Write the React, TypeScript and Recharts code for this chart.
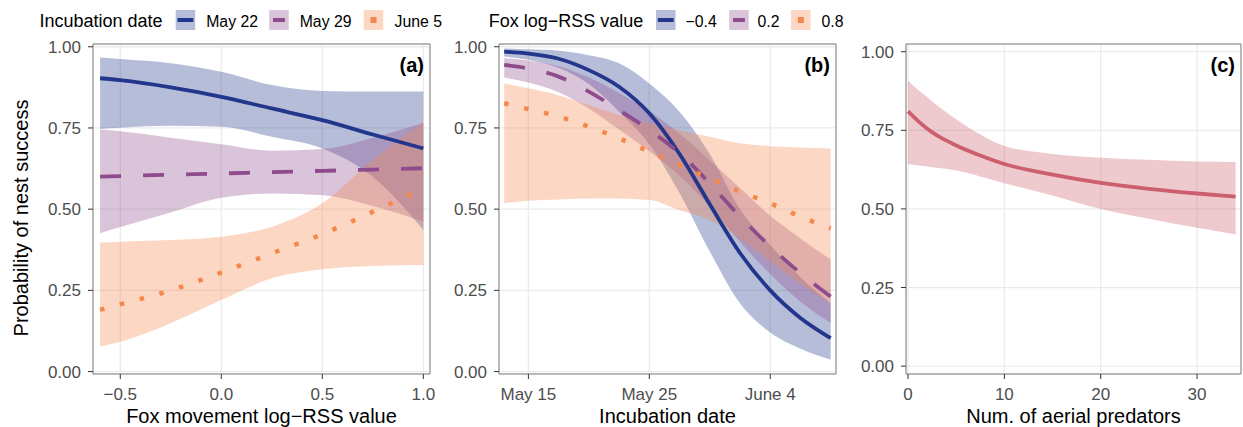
import React from 'react';
import { ComposedChart, Area, Line, XAxis, YAxis, CartesianGrid, ReferenceArea } from 'recharts';

const FONT = '"Liberation Sans", Arial, Helvetica, sans-serif';

const BLUE = '#22368c';
const PURPLE = '#8e4c8c';
const ORANGE = '#f5874b';
const ROSE = '#cc5f6e';
const RIBBON_ALPHA = 0.33;

// (a) nest success vs fox movement log-RSS, by incubation date
const foxX = [-0.6, -0.5, -0.25, 0, 0.25, 0.5, 0.75, 1.0];
const may22Fit = [0.903, 0.897, 0.875, 0.846, 0.81, 0.774, 0.73, 0.687];
const may22Lo = [0.747, 0.751, 0.757, 0.754, 0.723, 0.687, 0.6, 0.436];
const may22Hi = [0.967, 0.962, 0.949, 0.923, 0.882, 0.864, 0.862, 0.862];
const may29Fit = [0.6, 0.602, 0.606, 0.61, 0.614, 0.618, 0.622, 0.626];
const may29Lo = [0.426, 0.445, 0.49, 0.535, 0.548, 0.543, 0.51, 0.462];
const may29Hi = [0.745, 0.74, 0.72, 0.7, 0.68, 0.685, 0.72, 0.765];
const june5Fit = [0.19, 0.207, 0.25, 0.305, 0.364, 0.423, 0.492, 0.565];
const june5Lo = [0.077, 0.092, 0.149, 0.22, 0.287, 0.315, 0.325, 0.328];
const june5Hi = [0.397, 0.4, 0.405, 0.415, 0.446, 0.518, 0.651, 0.769];

// (b) nest success vs incubation date (days after May 15), by fox log-RSS
const dayX = [-2, 0, 2.5, 5, 7.5, 10, 12.5, 15, 17.5, 20, 22.5, 25];
const neg04Fit = [0.985, 0.979, 0.963, 0.928, 0.877, 0.795, 0.67, 0.515, 0.365, 0.25, 0.165, 0.103];
const neg04Lo = [0.97, 0.96, 0.935, 0.885, 0.8, 0.7, 0.55, 0.37, 0.21, 0.12, 0.07, 0.036];
const neg04Hi = [0.995, 0.992, 0.988, 0.974, 0.949, 0.887, 0.8, 0.67, 0.5, 0.39, 0.29, 0.21];
const pos02Fit = [0.944, 0.933, 0.908, 0.862, 0.805, 0.744, 0.672, 0.579, 0.477, 0.385, 0.303, 0.231];
const pos02Lo = [0.905, 0.89, 0.86, 0.81, 0.745, 0.678, 0.603, 0.51, 0.4, 0.3, 0.215, 0.15];
const pos02Hi = [0.965, 0.958, 0.94, 0.905, 0.858, 0.802, 0.732, 0.65, 0.565, 0.48, 0.41, 0.345];
const pos08Fit = [0.826, 0.808, 0.785, 0.754, 0.718, 0.677, 0.636, 0.595, 0.554, 0.518, 0.477, 0.441];
const pos08Lo = [0.518, 0.526, 0.53, 0.533, 0.533, 0.528, 0.497, 0.467, 0.41, 0.34, 0.27, 0.21];
const pos08Hi = [0.887, 0.872, 0.851, 0.82, 0.79, 0.764, 0.744, 0.723, 0.703, 0.694, 0.69, 0.687];

// (c) nest success vs number of aerial predators
const predX = [0, 1, 2, 3, 4, 5, 7.5, 10, 15, 20, 25, 30, 34];
const predFit = [0.81, 0.781, 0.755, 0.734, 0.717, 0.702, 0.67, 0.643, 0.609, 0.583, 0.564, 0.549, 0.539];
const predLo = [0.643, 0.639, 0.635, 0.631, 0.627, 0.622, 0.603, 0.582, 0.543, 0.5, 0.469, 0.44, 0.419];
const predHi = [0.908, 0.88, 0.855, 0.83, 0.807, 0.785, 0.737, 0.7, 0.675, 0.663, 0.656, 0.651, 0.649];

const probTicks = [0, 0.25, 0.5, 0.75, 1];
const foxTicks = [-0.5, 0, 0.5, 1];
const dayTicks = [0, 10, 20];
const dayTickLabels = ['May 15', 'May 25', 'June 4'];
const predTicks = [0, 10, 20, 30];

const dateLabels = ['May 22', 'May 29', 'June 5'];
const rssLabels = ['\u22120.4', '0.2', '0.8'];

type Band = { key: string; color: string; fit: number[]; lo: number[]; hi: number[]; dash?: string; width: number };

const DASHED = '21 22';
const DOTTED = '4.5 16';

const bandsA: Band[] = [
  { key: 'may22', color: BLUE, fit: may22Fit, lo: may22Lo, hi: may22Hi, width: 3.8 },
  { key: 'may29', color: PURPLE, fit: may29Fit, lo: may29Lo, hi: may29Hi, dash: DASHED, width: 3.8 },
  { key: 'june5', color: ORANGE, fit: june5Fit, lo: june5Lo, hi: june5Hi, dash: DOTTED, width: 4.5 },
];
const bandsB: Band[] = [
  { key: 'neg04', color: BLUE, fit: neg04Fit, lo: neg04Lo, hi: neg04Hi, width: 3.8 },
  { key: 'pos02', color: PURPLE, fit: pos02Fit, lo: pos02Lo, hi: pos02Hi, dash: DASHED, width: 3.8 },
  { key: 'pos08', color: ORANGE, fit: pos08Fit, lo: pos08Lo, hi: pos08Hi, dash: DOTTED, width: 4.5 },
];
const bandsC: Band[] = [
  { key: 'pred', color: ROSE, fit: predFit, lo: predLo, hi: predHi, width: 3.8 },
];

function buildRows(xs: number[], bands: Band[]) {
  return xs.map((x, i) => {
    const row: Record<string, any> = { x };
    bands.forEach((b) => {
      row[b.key] = b.fit[i];
      row[b.key + 'Band'] = [b.lo[i], b.hi[i]];
    });
    return row;
  });
}

const fmtNum = (v: number) => v.toFixed(1).replace('-', '\u2212');

function Panel({
  left, width, yWidth, right, xs, bands, xDomain, yDomain, xTicks, xFmt, xTitle, tag, yTitle,
}: {
  left: number; width: number; yWidth: number; right: number; xs: number[]; bands: Band[];
  xDomain: [number, number]; yDomain: [number, number]; xTicks: number[];
  xFmt: (v: number) => string; xTitle: string; tag: string; yTitle?: string;
}) {
  const rows = buildRows(xs, bands);
  const tick = { fill: '#4d4d4d', fontSize: 17, fontFamily: FONT };
  return (
    <div style={{ position: 'absolute', left, top: 0 }}>
      <ComposedChart width={width} height={427} data={rows} margin={{ top: 44, right, bottom: 0, left: 0 }}>
        <CartesianGrid stroke="#ebebeb" strokeWidth={1.3} />
        <XAxis
          type="number" dataKey="x" domain={xDomain} ticks={xTicks} allowDataOverflow interval={0}
          tickFormatter={xFmt} height={53} tickSize={5} tickMargin={9} axisLine={false}
          tickLine={{ stroke: '#333333' }} tick={tick}
          label={{ value: xTitle, position: 'insideBottom', offset: 4, fill: '#000', fontSize: 20, fontFamily: FONT }}
        />
        <YAxis
          type="number" domain={yDomain} ticks={probTicks} allowDataOverflow interval={0} width={yWidth}
          tickFormatter={(v: number) => v.toFixed(2)} tickSize={5} tickMargin={7} axisLine={false}
          tickLine={{ stroke: '#333333' }} tick={tick}
          label={yTitle ? {
            content: (p: any) => {
              const vb = p.viewBox;
              const cx = vb.x + 21;
              const cy = vb.y + vb.height / 2 + 9;
              return (
                <text x={cx} y={cy} transform={`rotate(-90 ${cx} ${cy})`} textAnchor="middle" dy="0.35em"
                  fill="#000" fontSize={20} fontFamily={FONT}>{yTitle}</text>
              );
            },
          } : undefined}
        />
        {bands.map((b) => (
          <Area key={b.key + 'Band'} dataKey={b.key + 'Band'} type="monotone" fill={b.color}
            fillOpacity={RIBBON_ALPHA} stroke="none" isAnimationActive={false} activeDot={false} />
        ))}
        {bands.map((b) => (
          <Line key={b.key} dataKey={b.key} type="monotone" stroke={b.color} strokeWidth={b.width}
            strokeDasharray={b.dash} dot={false} activeDot={false} isAnimationActive={false} />
        ))}
        <ReferenceArea
          x1={xDomain[0]} x2={xDomain[1]} y1={yDomain[0]} y2={yDomain[1]} ifOverflow="visible"
          fill="none" stroke="#808080" strokeWidth={1}
          label={{
            content: (p: any) => {
              const vb = p.viewBox;
              return (
                <text x={vb.x + vb.width - 6} y={vb.y + 27.6} textAnchor="end" fill="#000"
                  fontSize={20} fontWeight="bold" fontFamily={FONT}>{tag}</text>
              );
            },
          }}
        />
      </ComposedChart>
    </div>
  );
}

function KeyMark({ x, color, dash }: { x: number; color: string; dash?: string }) {
  return (
    <g>
      <rect x={x} y={10} width={19.5} height={20} fill={color} fillOpacity={RIBBON_ALPHA} />
      {!dash && <line x1={x + 1.8} x2={x + 17.7} y1={20} y2={20} stroke={color} strokeWidth={4} />}
      {dash === DASHED && <line x1={x + 3.8} x2={x + 15.7} y1={20} y2={20} stroke={color} strokeWidth={4} />}
      {dash === DOTTED && <rect x={x + 6.8} y={17} width={6} height={6} fill={color} />}
    </g>
  );
}

function LegendGroup({ titleX, title, keyXs, labelXs, labels, bands }: {
  titleX: number; title: string; keyXs: number[]; labelXs: number[]; labels: string[]; bands: Band[];
}) {
  return (
    <g fontFamily={FONT}>
      <text x={titleX} y={26.7} fontSize={18} fill="#000">{title}</text>
      {labels.map((lab, i) => (
        <g key={lab}>
          <KeyMark x={keyXs[i]} color={bands[i].color} dash={bands[i].dash} />
          <text x={labelXs[i]} y={26.7} fontSize={15.8} fill="#000">{lab}</text>
        </g>
      ))}
    </g>
  );
}

export default function App() {
  return (
    <div style={{ position: 'absolute', left: 0, top: 0, width: 1243, height: 427, background: '#fff' }}>
      <Panel left={0} width={440} yWidth={93} right={10} xs={foxX} bands={bandsA}
        xDomain={[-0.635, 1.033]} yDomain={[-0.0075, 1.0085]} xTicks={foxTicks} xFmt={fmtNum}
        xTitle={'Fox movement log\u2212RSS value'} tag="(a)" yTitle="Probability of nest success" />
      <Panel left={420} width={420} yWidth={79} right={4} xs={dayX} bands={bandsB}
        xDomain={[-2.43, 25.44]} yDomain={[-0.0075, 1.0085]} xTicks={dayTicks}
        xFmt={(v: number) => dayTickLabels[dayTicks.indexOf(v)] ?? ''}
        xTitle="Incubation date" tag="(b)" />
      <Panel left={840} width={403} yWidth={66} right={2} xs={predX} bands={bandsC}
        xDomain={[-0.21, 34.56]} yDomain={[-0.025, 1.0245]} xTicks={predTicks} xFmt={(v: number) => String(v)}
        xTitle="Num. of aerial predators" tag="(c)" />
      <svg width={1243} height={40} style={{ position: 'absolute', left: 0, top: 0 }}>
        <LegendGroup titleX={39.5} title="Incubation date" keyXs={[175.7, 269.2, 363.7]} labelXs={[206.2, 299.7, 394.5]}
          labels={dateLabels} bands={bandsA} />
        <LegendGroup titleX={488.8} title={'Fox log\u2212RSS value'} keyXs={[656, 729.2, 791]} labelXs={[685.5, 757.5, 821.5]}
          labels={rssLabels} bands={bandsB} />
      </svg>
    </div>
  );
}
